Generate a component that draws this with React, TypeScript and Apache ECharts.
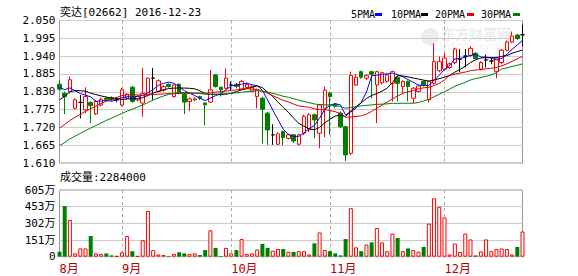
import React, { useEffect, useRef } from 'react';
import * as echarts from 'echarts';

const stockName = '奕达';
const stockCode = '02662';
const year = '2016';

const dates = [
  '08-16','08-17','08-18','08-19','08-22','08-23','08-24','08-25','08-26','08-29','08-30','08-31',
  '09-01','09-02','09-05','09-06','09-07','09-08','09-09','09-12','09-13','09-14','09-15','09-19','09-20','09-21','09-22','09-23','09-26','09-27','09-28','09-29','09-30',
  '10-03','10-04','10-05','10-06','10-07','10-11','10-12','10-13','10-14','10-17','10-18','10-19','10-20','10-24','10-25','10-26','10-27','10-28','10-31',
  '11-01','11-02','11-03','11-04','11-07','11-08','11-09','11-10','11-11','11-14','11-15','11-16','11-17','11-18','11-21','11-22','11-23','11-24','11-25','11-28','11-29','11-30',
  '12-01','12-05','12-06','12-07','12-08','12-09','12-12','12-13','12-14','12-15','12-16','12-19','12-20','12-21','12-22','12-23',
];

// [open, close, low, high]
const ohlc: number[][] = [
  [1.853, 1.838, 1.833, 1.866],
  [1.825, 1.815, 1.761, 1.830],
  [1.831, 1.867, 1.825, 1.877],
  [1.779, 1.805, 1.775, 1.810],
  [1.797, 1.797, 1.748, 1.820],
  [1.774, 1.815, 1.764, 1.844],
  [1.797, 1.787, 1.733, 1.800],
  [1.762, 1.800, 1.758, 1.805],
  [1.789, 1.807, 1.785, 1.812],
  [1.810, 1.805, 1.800, 1.815],
  [1.812, 1.806, 1.800, 1.816],
  [1.805, 1.805, 1.798, 1.812],
  [1.789, 1.836, 1.785, 1.842],
  [1.810, 1.822, 1.805, 1.826],
  [1.844, 1.800, 1.796, 1.848],
  [1.805, 1.815, 1.800, 1.820],
  [1.795, 1.825, 1.753, 1.903],
  [1.820, 1.872, 1.815, 1.874],
  [1.872, 1.872, 1.805, 1.903],
  [1.831, 1.864, 1.828, 1.868],
  [1.835, 1.846, 1.830, 1.850],
  [1.853, 1.846, 1.843, 1.856],
  [1.815, 1.851, 1.812, 1.853],
  [1.853, 1.825, 1.822, 1.856],
  [1.822, 1.798, 1.761, 1.825],
  [1.800, 1.808, 1.770, 1.812],
  [1.805, 1.808, 1.800, 1.813],
  [1.815, 1.810, 1.805, 1.818],
  [1.795, 1.790, 1.727, 1.798],
  [1.798, 1.836, 1.795, 1.897],
  [1.882, 1.846, 1.843, 1.885],
  [1.844, 1.836, 1.815, 1.846],
  [1.841, 1.872, 1.838, 1.902],
  [1.851, 1.851, 1.835, 1.862],
  [1.853, 1.846, 1.840, 1.858],
  [1.838, 1.862, 1.835, 1.866],
  [1.843, 1.853, 1.838, 1.858],
  [1.831, 1.846, 1.828, 1.850],
  [1.815, 1.836, 1.779, 1.840],
  [1.810, 1.776, 1.670, 1.815],
  [1.764, 1.712, 1.666, 1.768],
  [1.697, 1.697, 1.666, 1.730],
  [1.668, 1.700, 1.665, 1.705],
  [1.707, 1.688, 1.664, 1.710],
  [1.686, 1.697, 1.683, 1.700],
  [1.697, 1.678, 1.672, 1.700],
  [1.668, 1.697, 1.664, 1.700],
  [1.702, 1.754, 1.697, 1.759],
  [1.712, 1.759, 1.705, 1.764],
  [1.759, 1.743, 1.686, 1.762],
  [1.702, 1.789, 1.655, 1.792],
  [1.779, 1.835, 1.690, 1.846],
  [1.826, 1.815, 1.697, 1.830],
  [1.792, 1.785, 1.780, 1.795],
  [1.764, 1.722, 1.718, 1.769],
  [1.722, 1.635, 1.616, 1.725],
  [1.640, 1.880, 1.635, 1.892],
  [1.851, 1.875, 1.848, 1.885],
  [1.892, 1.875, 1.870, 1.895],
  [1.872, 1.880, 1.866, 1.884],
  [1.892, 1.884, 1.810, 1.895],
  [1.851, 1.892, 1.733, 1.895],
  [1.858, 1.889, 1.853, 1.892],
  [1.862, 1.882, 1.858, 1.885],
  [1.856, 1.892, 1.800, 1.895],
  [1.875, 1.856, 1.800, 1.878],
  [1.846, 1.862, 1.825, 1.865],
  [1.862, 1.846, 1.800, 1.865],
  [1.810, 1.841, 1.795, 1.844],
  [1.831, 1.848, 1.828, 1.851],
  [1.862, 1.851, 1.846, 1.864],
  [1.805, 1.862, 1.797, 1.864],
  [1.856, 1.923, 1.851, 1.980],
  [1.895, 1.923, 1.890, 1.939],
  [1.900, 1.934, 1.895, 1.950],
  [1.905, 1.916, 1.900, 1.920],
  [1.920, 1.962, 1.915, 1.966],
  [1.930, 1.930, 1.890, 1.962],
  [1.940, 1.940, 1.905, 1.962],
  [1.942, 1.964, 1.938, 1.970],
  [1.949, 1.933, 1.930, 1.952],
  [1.900, 1.920, 1.895, 1.924],
  [1.928, 1.928, 1.905, 1.945],
  [1.925, 1.925, 1.915, 1.935],
  [1.893, 1.934, 1.872, 1.938],
  [1.920, 1.958, 1.915, 1.962],
  [1.958, 1.984, 1.955, 1.988],
  [1.983, 2.002, 1.980, 2.016],
  [2.005, 1.994, 1.990, 2.008],
  [2.006, 2.006, 1.970, 2.037],
];

// volume in 万 (10,000 shares)
const volumesWan = [
  45, 460, 333, 30, 75, 75, 188, 30, 25, 30,
  12, 6, 40, 188, 50, 6, 150, 415, 60, 20,
  15, 6, 25, 40, 30, 25, 30, 15, 60, 240,
  80, 6, 80, 30, 60, 160, 25, 30, 65, 115,
  80, 55, 70, 70, 45, 43, 50, 50, 20, 121,
  220, 60, 50, 30, 12, 160, 440, 85, 50, 110,
  130, 260, 130, 50, 210, 170, 50, 75, 60, 45,
  88, 300, 530, 453, 357, 20, 120, 42, 210, 157,
  12, 48, 157, 50, 70, 75, 70, 20, 88, 228.4,
];

// closes of the 29 sessions before the window (estimated from where the MA lines start)
const priorCloses = [
  1.52, 1.53, 1.54, 1.55, 1.55, 1.56, 1.56, 1.57, 1.57, 1.59,
  1.60, 1.61, 1.61, 1.62, 1.62, 1.63, 1.64, 1.65, 1.66, 1.67,
  1.70, 1.73, 1.77, 1.80, 1.83,
  1.85, 1.84, 1.85, 1.84,
];

const priceTicks = ['1.610', '1.665', '1.720', '1.775', '1.830', '1.885', '1.940', '1.995', '2.050'];
const volumeMax = 6050000;
const volumeStep = 1512500;

const maPeriods = [5, 10, 20, 30];
const maNames = ['5PMA', '10PMA', '20PMA', '30PMA'];
const maColors = ['#0000ff', '#000000', '#e00000', '#008000'];

const UP = '#ff0000';
const DOWN = '#008000';
const FONT = "'DejaVu Sans Mono', 'Noto Sans CJK SC', monospace";

const closes = ohlc.map((d) => d[1]);
function movingAverage(n: number) {
  const all = priorCloses.concat(closes);
  return closes.map((_, i) => {
    const end = priorCloses.length + i;
    let s = 0;
    for (let k = end - n + 1; k <= end; k++) s += all[k];
    return +(s / n).toFixed(4);
  });
}

const monthStarts = new Set<number>();
dates.forEach((d, i) => {
  if (i === 0 || d.slice(0, 2) !== dates[i - 1].slice(0, 2)) monthStarts.add(i);
});

export default function App() {
  const ref = useRef<HTMLDivElement>(null);
  useEffect(() => {
    const chart = echarts.init(ref.current!, null, { renderer: 'svg' });
    const last = dates.length - 1;
    const candleData = ohlc.map((d) => {
      if (d[0] === d[1]) {
        return {
          value: d,
          itemStyle: { color: '#000', color0: '#000', borderColor: '#000', borderColor0: '#000', borderColorDoji: '#000' },
        };
      }
      return d;
    });
    const volumeData = volumesWan.map((v, i) => {
      const up = ohlc[i][1] >= ohlc[i][0];
      return {
        value: Math.round(v * 10000),
        itemStyle: up
          ? { color: '#fff', borderColor: UP, borderWidth: 1 }
          : { color: DOWN, borderColor: DOWN, borderWidth: 0 },
      };
    });
    const legendX = [351, 391, 435, 481];
    const legendMarkX = [375, 421, 467, 513];
    const graphics: any[] = [
      { type: 'circle', z: 0, shape: { cx: 430, cy: 37, r: 9 }, style: { fill: 'rgba(0,0,0,0.07)' } },
      { type: 'text', z: 0, x: 441, y: 33, style: { text: '东方财富网', font: "bold 14px 'Noto Sans CJK SC'", fill: 'rgba(0,0,0,0.09)', verticalAlign: 'middle' } },
      { type: 'text', z: 0, x: 445, y: 46, style: { text: 'eastmoney.com', font: "8px 'DejaVu Sans'", fill: 'rgba(0,0,0,0.09)', verticalAlign: 'middle' } },
    ];
    maNames.forEach((n, i) => {
      graphics.push({ type: 'text', x: legendX[i], y: 14, style: { text: n, font: `10px ${FONT}`, fill: '#000', verticalAlign: 'middle' } });
      graphics.push({ type: 'rect', shape: { x: legendMarkX[i], y: 13, width: 7, height: 3 }, style: { fill: maColors[i] } });
    });

    const splitX = {
      show: true,
      interval: (i: number) => monthStarts.has(i) && i > 0,
      lineStyle: { color: '#aaa', type: [3, 3] as any, width: 1 },
    };

    chart.setOption({
      animation: false,
      backgroundColor: '#fff',
      title: [
        {
          text: `${stockName}[${stockCode}] ${year}-${dates[last]}`,
          left: 60, top: 7, padding: 0,
          textStyle: { fontSize: 11, fontWeight: 'normal', color: '#000', fontFamily: FONT },
        },
        {
          text: '成交量:' + Math.round(volumesWan[last] * 10000),
          left: 60, top: 172, padding: 0,
          textStyle: { fontSize: 11, fontWeight: 'normal', color: '#000', fontFamily: FONT },
        },
      ],
      graphic: graphics,
      grid: [
        { left: 59.5, right: 55.5, top: 20.5, height: 142.5, show: true, borderColor: '#999', borderWidth: 1 },
        { left: 59.5, right: 55.5, top: 190, height: 66.7, show: true, borderColor: '#999', borderWidth: 1 },
      ],
      xAxis: [
        {
          type: 'category', gridIndex: 0, data: dates, boundaryGap: false,
          axisLine: { show: false }, axisTick: { show: false }, axisLabel: { show: false },
          splitLine: splitX,
        },
        {
          type: 'category', gridIndex: 1, data: dates, boundaryGap: false,
          axisLine: { show: false }, axisTick: { show: false },
          axisLabel: {
            show: true,
            interval: (i: number) => monthStarts.has(i),
            formatter: (v: string) => parseInt(v.slice(0, 2), 10) + '月',
            align: 'left', color: '#b00000', fontSize: 12, fontFamily: FONT, margin: 6,
          },
          splitLine: splitX,
        },
      ],
      yAxis: [
        { type: 'value', gridIndex: 0, min: 1.61, max: 2.05, show: false, position: 'right' },
        {
          type: 'category', gridIndex: 0, data: priceTicks, boundaryGap: false, position: 'left',
          axisLine: { show: false }, axisTick: { show: false },
          axisLabel: { interval: 0, color: '#000', fontSize: 11, fontFamily: FONT, margin: 4 },
          splitLine: { show: true, interval: 0, lineStyle: { color: '#ccc' } },
        },
        {
          type: 'value', gridIndex: 1, min: 0, max: volumeMax, interval: volumeStep,
          axisLine: { show: false }, axisTick: { show: false },
          axisLabel: {
            color: '#000', fontSize: 11, fontFamily: FONT, margin: 4,
            formatter: (v: number) => (v === 0 ? '0' : Math.floor(v / 10000 + 1e-9) + '万'),
          },
          splitLine: { show: true, lineStyle: { color: '#ccc' } },
        },
      ],
      series: [
        {
          type: 'candlestick', name: 'K', xAxisIndex: 0, yAxisIndex: 0, data: candleData,
          barWidth: 4, clip: false,
          itemStyle: { color: '#fff', color0: DOWN, borderColor: UP, borderColor0: DOWN, borderColorDoji: '#000', borderWidth: 1 },
          z: 2,
        },
        ...maPeriods.map((p, i) => ({
          type: 'line', name: maNames[i], xAxisIndex: 0, yAxisIndex: 0,
          data: movingAverage(p), showSymbol: false, symbol: 'none', silent: true,
          lineStyle: { width: 1, color: maColors[i] }, itemStyle: { color: maColors[i] }, z: 3,
        })),
        {
          type: 'bar', name: 'VOL', xAxisIndex: 1, yAxisIndex: 2, data: volumeData,
          barWidth: 4, clip: false,
        },
      ],
    });
    return () => chart.dispose();
  }, []);
  return (
    <div
      ref={ref}
      style={{ position: 'fixed', left: 0, top: 0, width: 578, height: 276, background: '#fff' }}
    />
  );
}
